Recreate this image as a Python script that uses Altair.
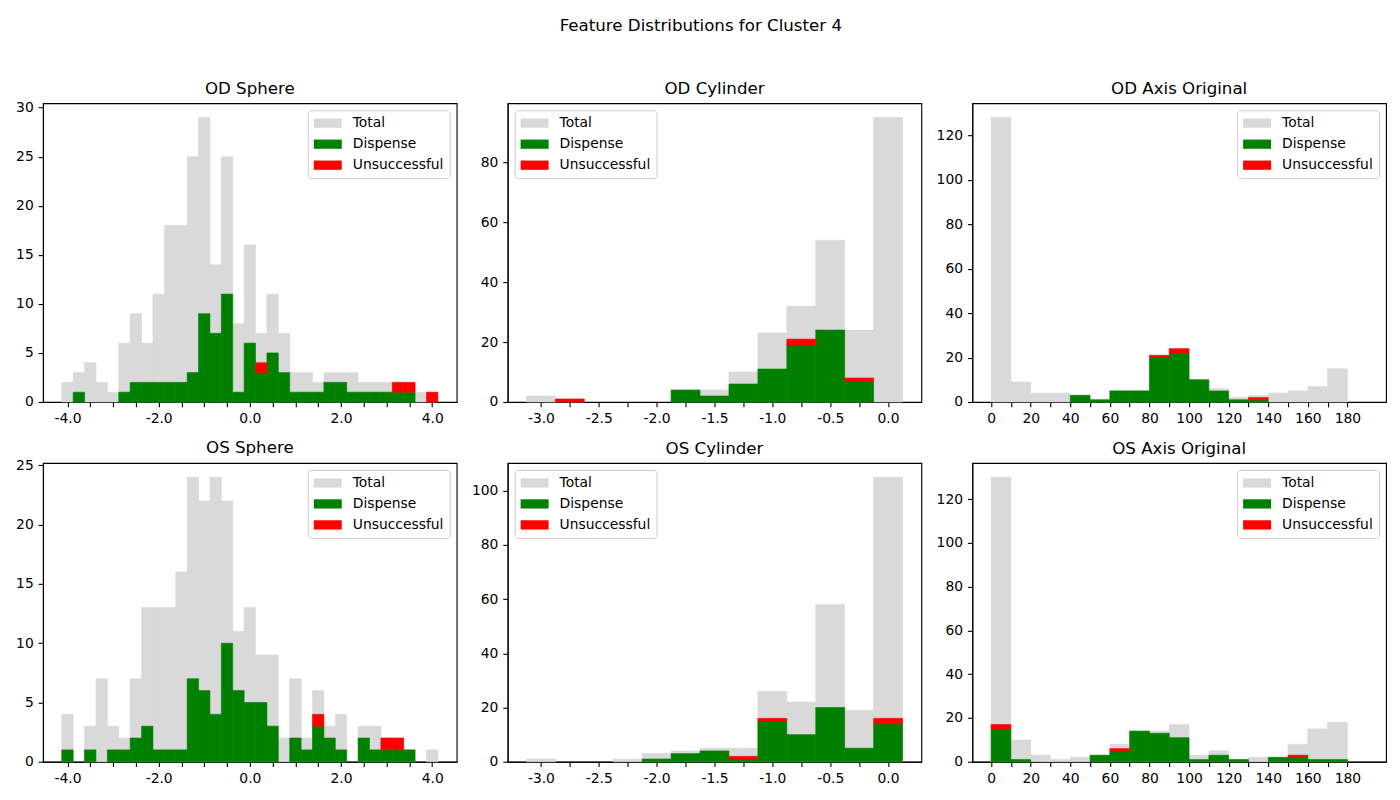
import altair as alt
import pandas as pd

FONT = "DejaVu Sans"
SERIES = ["Total", "Dispense", "Unsuccessful"]
COLORS = ["#d9d9d9", "#008000", "#ff0000"]

# ---- bin layout ----
sph_start, sph_step, sph_n = -4.125, 0.25, 33
cyl_start, cyl_step, cyl_n = -3.125, 0.25, 13
axs_start, axs_step, axs_n = 0.0, 10.0, 19

# ---- counts per bin ----
od_sph_total = [2, 3, 4, 2, 1, 6, 9, 6, 11, 18, 18, 25, 29, 14, 25, 8, 16, 7, 11, 7, 3, 3, 2, 3, 3, 3, 2, 2, 2, 2, 2, 1, 1]
od_sph_disp = [0, 1, 0, 0, 0, 1, 2, 2, 2, 2, 2, 3, 9, 7, 11, 1, 6, 3, 5, 3, 1, 1, 1, 2, 2, 1, 1, 1, 1, 1, 1, 0, 0]
od_sph_uns = [0, 0, 0, 0, 0, 0, 0, 0, 0, 0, 0, 0, 0, 0, 0, 0, 0, 1, 0, 0, 0, 0, 0, 0, 0, 0, 0, 0, 0, 1, 1, 0, 1]

os_sph_total = [4, 0, 3, 7, 3, 2, 7, 13, 13, 13, 16, 24, 22, 24, 22, 11, 13, 9, 9, 2, 7, 2, 6, 3, 4, 0, 3, 3, 2, 2, 1, 0, 1]
os_sph_disp = [1, 0, 1, 0, 1, 1, 2, 3, 1, 1, 1, 7, 6, 4, 10, 6, 5, 5, 3, 0, 2, 1, 3, 2, 1, 0, 2, 1, 1, 1, 1, 0, 0]
os_sph_uns = [0, 0, 0, 0, 0, 0, 0, 0, 0, 0, 0, 0, 0, 0, 0, 0, 0, 0, 0, 0, 0, 0, 1, 0, 0, 0, 0, 0, 1, 1, 0, 0, 0]

od_cyl_total = [2, 1, 0, 0, 0, 4, 4, 10, 23, 32, 54, 24, 95]
od_cyl_disp = [0, 0, 0, 0, 0, 4, 2, 6, 11, 19, 24, 7, 0]
od_cyl_uns = [0, 1, 0, 0, 0, 0, 0, 0, 0, 2, 0, 1, 0]

os_cyl_total = [1, 0, 0, 1, 3, 4, 5, 5, 26, 22, 58, 19, 105]
os_cyl_disp = [0, 0, 0, 0, 1, 3, 4, 1, 15, 10, 20, 5, 14]
os_cyl_uns = [0, 0, 0, 0, 0, 0, 0, 1, 1, 0, 0, 0, 2]

od_axs_total = [128, 9, 4, 4, 3, 1, 5, 5, 21, 24, 10, 6, 2, 3, 4, 5, 7, 15, 0]
od_axs_disp = [0, 0, 0, 0, 3, 1, 5, 5, 20, 22, 10, 5, 1, 1, 0, 0, 0, 0, 0]
od_axs_uns = [0, 0, 0, 0, 0, 0, 0, 0, 1, 2, 0, 0, 0, 1, 0, 0, 0, 0, 0]

os_axs_total = [130, 10, 3, 1, 2, 3, 8, 14, 14, 17, 3, 5, 1, 2, 2, 8, 15, 18, 0]
os_axs_disp = [15, 1, 0, 0, 0, 3, 5, 14, 13, 11, 1, 3, 1, 0, 2, 2, 1, 1, 0]
os_axs_uns = [2, 0, 0, 0, 0, 0, 1, 0, 0, 0, 0, 0, 0, 0, 0, 1, 0, 0, 0]

# ---- tick values ----
sph_xticks = [-4 + 0.5 * i for i in range(17)]
cyl_xticks = [-3 + 0.25 * i for i in range(13)]
axs_xticks = [10 * i for i in range(19)]

sph_label = "abs(datum.value) % 2 < 0.01 ? (datum.value < 0 ? '-' : '') + format(abs(datum.value), '.1f') : ''"
cyl_label = "abs(datum.value) % 0.5 < 0.01 ? (datum.value < 0 ? '-' : '') + format(abs(datum.value), '.1f') : ''"
axs_label = "datum.value % 20 == 0 ? format(datum.value, 'd') : ''"


def make_df(start, step, total, disp, uns):
    rows = []
    for name in SERIES:
        for i in range(len(total)):
            x0 = start + step * i
            x1 = x0 + step
            if name == "Total":
                a, b = 0, total[i]
            elif name == "Dispense":
                a, b = 0, disp[i]
            else:
                a, b = disp[i], disp[i] + uns[i]
            if b > a:
                rows.append({"x0": x0, "x1": x1, "y0": a, "y1": b, "series": name})
    return pd.DataFrame(rows)


SYMBOL = "M-1,-0.66L3,-0.66L3,0.66L-1,0.66Z"


def panel(title, start, step, n, total, disp, uns, xticks, label_expr, yticks, legend_orient, title_dy):
    df = make_df(start, step, total, disp, uns)
    lo = start
    hi = start + step * n
    m = 0.05 * (hi - lo)
    ymax = max(max(total), max(d + u for d, u in zip(disp, uns))) * 1.05
    return (
        alt.Chart(df)
        .mark_bar(strokeWidth=0.6)
        .encode(
            x=alt.X(
                "x0:Q",
                scale=alt.Scale(domain=[lo - m, hi + m], nice=False, zero=False),
                axis=alt.Axis(values=xticks, labelExpr=label_expr, title=None, labelFlush=False,
                              labelOverlap=False),
            ),
            x2="x1:Q",
            y=alt.Y(
                "y0:Q",
                scale=alt.Scale(domain=[0, ymax], nice=False),
                axis=alt.Axis(values=yticks, title=None, labelFlush=False),
            ),
            y2="y1:Q",
            color=alt.Color(
                "series:N",
                scale=alt.Scale(domain=SERIES, range=COLORS),
                legend=alt.Legend(orient=legend_orient, title=None, offset=7),
            ),
            stroke=alt.Stroke("series:N", scale=alt.Scale(domain=SERIES, range=COLORS), legend=None),
        )
        .properties(width=414, height=299,
                    title=alt.TitleParams(title, fontSize=16.67, font=FONT, fontWeight="normal",
                                          offset=5.5, dy=title_dy, color="black"))
    )


p1 = panel("OD Sphere", sph_start, sph_step, sph_n, od_sph_total, od_sph_disp, od_sph_uns,
           sph_xticks, sph_label, [0, 5, 10, 15, 20, 25, 30], "top-right", 3)
p2 = panel("OD Cylinder", cyl_start, cyl_step, cyl_n, od_cyl_total, od_cyl_disp, od_cyl_uns,
           cyl_xticks, cyl_label, [0, 20, 40, 60, 80], "top-left", 0)
p3 = panel("OD Axis Original", axs_start, axs_step, axs_n, od_axs_total, od_axs_disp, od_axs_uns,
           axs_xticks, axs_label, [0, 20, 40, 60, 80, 100, 120], "top-right", 0)
p4 = panel("OS Sphere", sph_start, sph_step, sph_n, os_sph_total, os_sph_disp, os_sph_uns,
           sph_xticks, sph_label, [0, 5, 10, 15, 20, 25], "top-right", 4)
p5 = panel("OS Cylinder", cyl_start, cyl_step, cyl_n, os_cyl_total, os_cyl_disp, os_cyl_uns,
           cyl_xticks, cyl_label, [0, 20, 40, 60, 80, 100], "top-left", 0)
p6 = panel("OS Axis Original", axs_start, axs_step, axs_n, os_axs_total, os_axs_disp, os_axs_uns,
           axs_xticks, axs_label, [0, 20, 40, 60, 80, 100, 120], "top-right", 0)

chart = (
    alt.concat(p1, p2, p3, p4, p5, p6, columns=3, spacing={"row": 61, "column": 51}, bounds="flush")
    .resolve_scale(color="independent", stroke="independent")
    .properties(
        title=alt.TitleParams("Feature Distributions for Cluster 4", fontSize=16.67, font=FONT,
                              fontWeight="normal", anchor="middle", offset=46, color="black"),
        padding={"left": 7, "top": 9, "right": 5, "bottom": 5},
    )
    .configure(font=FONT)
    .configure_view(stroke="black", strokeWidth=1.1)
    .configure_axis(
        domainColor="black", domainWidth=1.1, tickColor="black", tickWidth=1.1, tickSize=4.86,
        labelPadding=4.86, labelFont=FONT, labelFontSize=13.89, labelColor="black", grid=False,
    )
    .configure_legend(
        labelFont=FONT, labelFontSize=13.89, labelColor="black", symbolType=SYMBOL, symbolSize=196,
        symbolStrokeWidth=0, symbolOpacity=1, labelOffset=25, rowPadding=7, padding=6,
        strokeColor="#cccccc", fillColor="rgba(255,255,255,0.8)", cornerRadius=3,
    )
)

chart.save("out.html", embed_options={"renderer": "svg", "actions": False})
